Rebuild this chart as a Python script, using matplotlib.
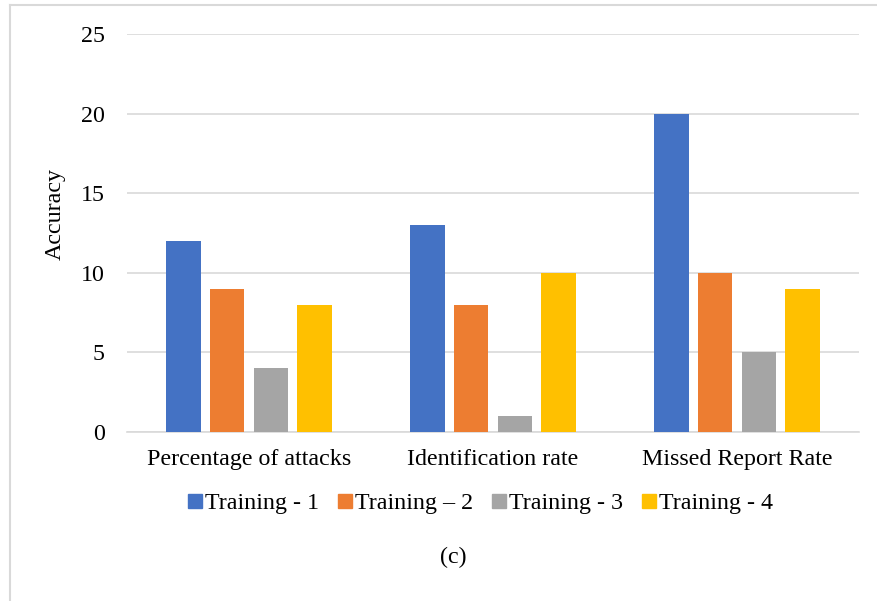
import matplotlib
matplotlib.use("Agg")
import matplotlib.pyplot as plt
import numpy as np
from matplotlib.lines import Line2D

plt.rcParams['font.family'] = ['Liberation Serif', 'DejaVu Serif']

categories = ["Percentage of attacks", "Identification rate", "Missed Report Rate"]
series_names = ["Training - 1", "Training \u2013 2", "Training - 3", "Training - 4"]
training1 = [12, 13, 20]
training2 = [9, 8, 10]
training3 = [4, 1, 5]
training4 = [8, 10, 9]
yticks = [0, 5, 10, 15, 20, 25]
colors = ["#4472C4", "#ED7D31", "#A5A5A5", "#FFC000"]

FS = 17.3

fig = plt.figure(figsize=(8.78, 6.01), dpi=100)
ax = fig.add_axes([127/878, 1-432/601, (859-127)/878, (432-34)/601])

x = np.arange(len(categories))
width = 0.143
step = 0.18
all_series = [training1, training2, training3, training4]
for i, (vals, c, name) in enumerate(zip(all_series, colors, series_names)):
    ax.bar(x + (i - 1.5) * step, vals, width, color=c, label=name, zorder=3)

ax.set_xlim(-0.5, 2.5)
ax.set_ylim(0, 25)
ax.set_yticks(yticks)
ax.set_yticklabels([str(t) for t in yticks], fontsize=FS)
ax.set_xticks(x)
ax.set_xticklabels(categories, fontsize=FS)
ax.tick_params(axis='both', length=0)
ax.tick_params(axis='y', pad=16)
ax.tick_params(axis='x', pad=12)
ax.grid(axis='y', color='#d9d9d9', linewidth=1.2, zorder=0)
for s in ['top', 'right', 'left']:
    ax.spines[s].set_visible(False)
ax.spines['bottom'].set_color('#d9d9d9')
ax.spines['bottom'].set_linewidth(1.2)
ax.set_ylabel("Accuracy", fontsize=FS)
ax.yaxis.set_label_coords(-61/732, (432-214)/398)
ax.yaxis.label.set_horizontalalignment('center')

handles = [Line2D([0], [0], marker='s', linestyle='none', markersize=9.5,
                  markerfacecolor=c, markeredgecolor=c) for c in colors]
fig.legend(handles, series_names, loc='center', bbox_to_anchor=(481/878, 1-503/601),
           ncol=4, frameon=False, fontsize=FS, handletextpad=0.15,
           columnspacing=0.85, handlelength=0.5)

fig.text(453/878, 1-557/601, "(c)", ha='center', va='center', fontsize=FS)

# figure border lines (left and top)
fig.add_artist(Line2D([10/878, 10/878], [0, 1-5/601], color='#d9d9d9', linewidth=1.5,
                      transform=fig.transFigure))
fig.add_artist(Line2D([10/878, 1], [1-5/601, 1-5/601], color='#d9d9d9', linewidth=1.5,
                      transform=fig.transFigure))

fig.savefig("out.png", dpi=100)
